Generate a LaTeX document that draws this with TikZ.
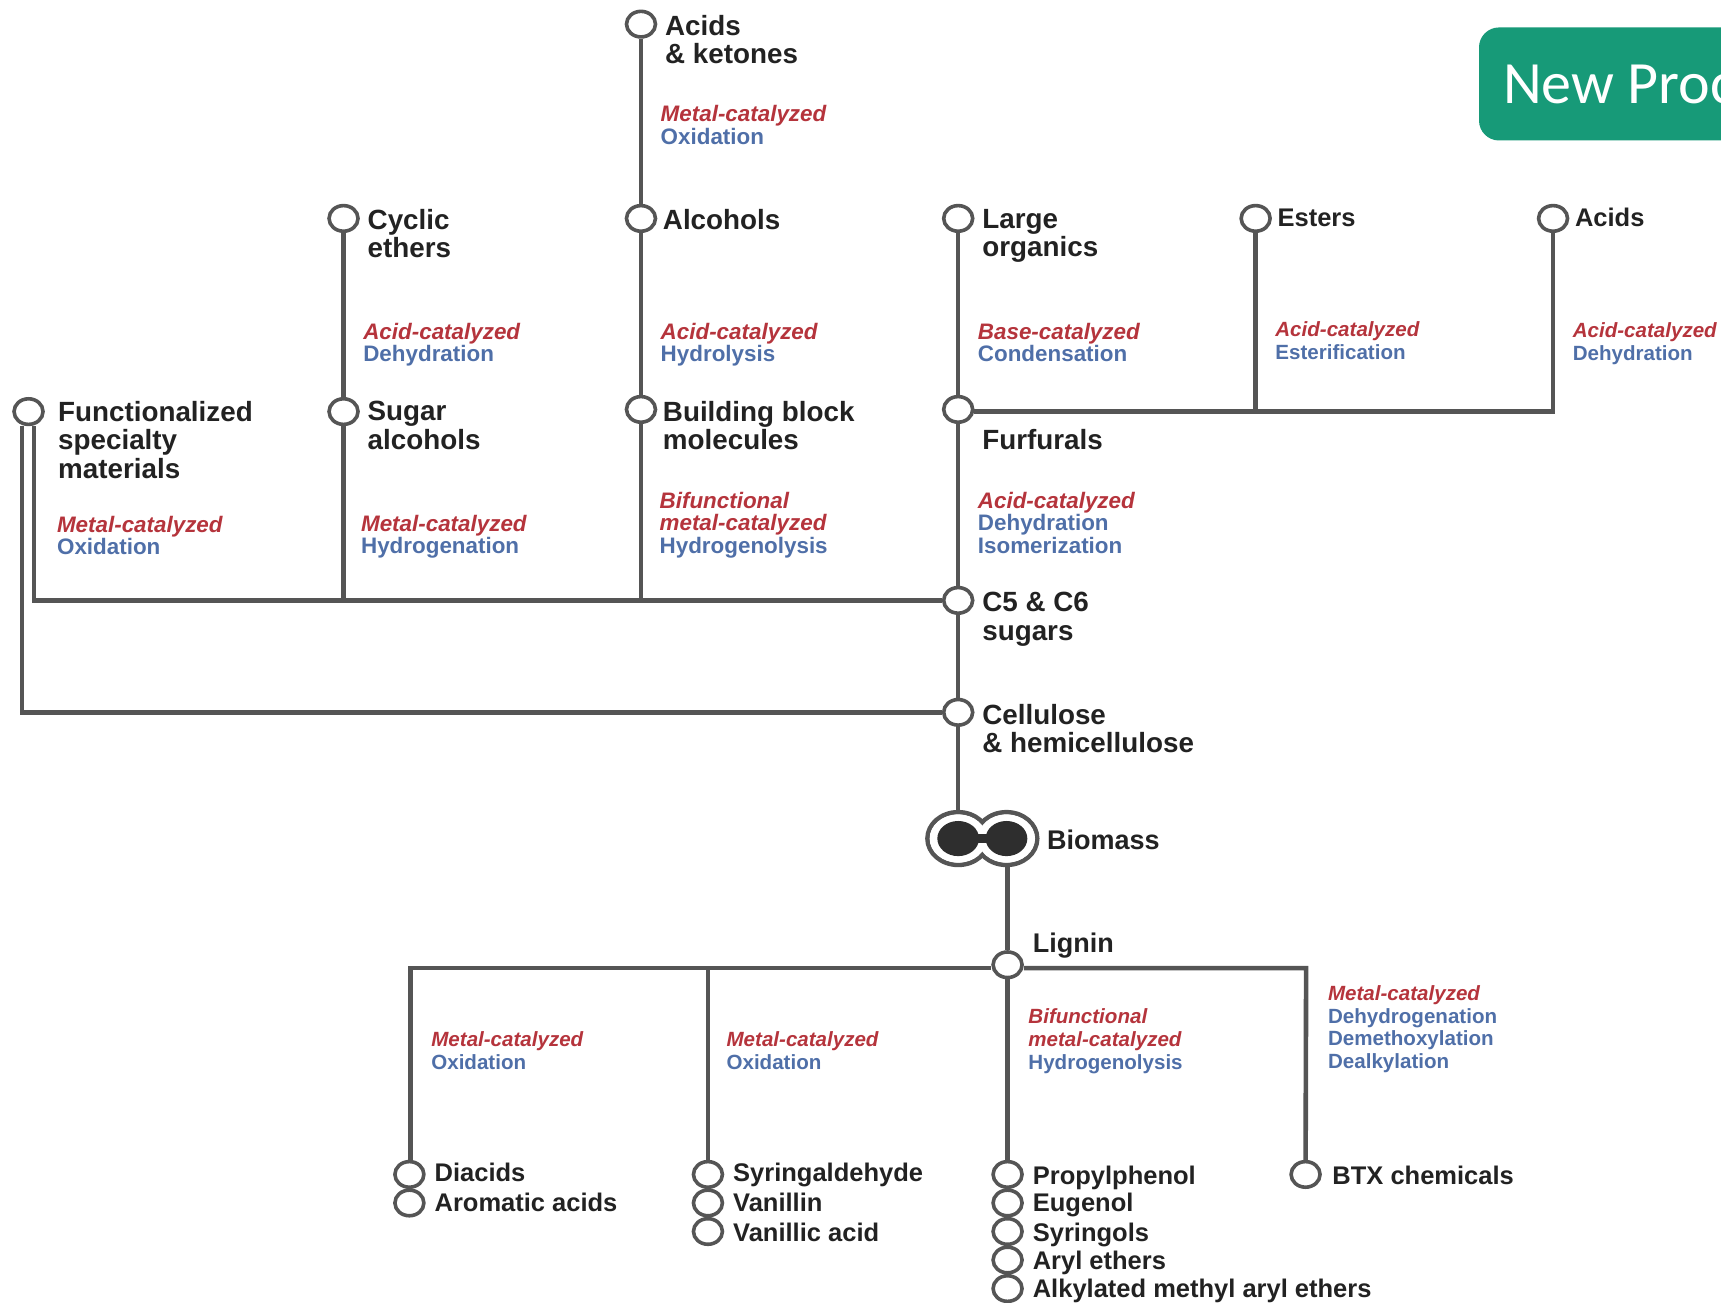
\documentclass[tikz,border=0pt]{standalone}
\usepackage{fontspec}
\setmainfont{Liberation Sans}
\newfontfamily\carlito{Carlito}
\definecolor{linegrey}{HTML}{555555}
\definecolor{labelblack}{HTML}{222222}
\definecolor{catred}{HTML}{B5343C}
\definecolor{procblue}{HTML}{4F6FA8}
\definecolor{boxgreen}{HTML}{179A78}
\definecolor{coredark}{HTML}{2E2E2E}
\newcommand{\rd}[1]{{\color{catred}\bfseries\itshape #1}}
\newcommand{\bl}[1]{{\color{procblue}\bfseries #1}}
\tikzset{
  x=0.5488pt,y=-0.5488pt,
  stop/.style={draw=linegrey,line width=1.8pt,fill=white,ellipse,minimum width=14.5pt,minimum height=12.8pt,inner sep=0pt},
  wire/.style={draw=linegrey,line width=2.3pt,line join=miter},
  lab/.style={anchor=north west,inner sep=0pt,outer sep=0pt,yshift=8.9pt,align=left,text=labelblack,
    font=\fontsize{13.9}{14.1}\selectfont\bfseries,execute at begin node=\rule{0pt}{10pt}},
  labm/.style={lab,font=\fontsize{13.5}{14.1}\selectfont\bfseries},
  labs/.style={lab,yshift=0.55pt,font=\fontsize{12.75}{14.1}\selectfont\bfseries},
  cat/.style={anchor=north west,inner sep=0pt,outer sep=0pt,yshift=7pt,align=left,
    font=\fontsize{11.2}{11.25}\selectfont,execute at begin node=\rule{0pt}{10pt}},
  cats/.style={cat,font=\fontsize{10.28}{11.3}\selectfont},
}
\usetikzlibrary{shapes.geometric}
\begin{document}
\begin{tikzpicture}
\useasboundingbox (0,0) rectangle (1568,1187.1);
% --- stops upper
\node[stop] (ketones) at (584,22) {};
\node[stop] (alcohols) at (584,199) {};
\node[stop] (cyclic) at (313,199) {};
\node[stop] (large) at (873,199) {};
\node[stop] (esters) at (1144,199) {};
\node[stop] (acids) at (1415,199) {};
\node[stop] (func) at (26,375) {};
\node[stop] (sugar) at (313,375) {};
\node[stop] (block) at (584,373) {};
\node[stop] (furf) at (873,373) {};
\node[stop] (c5) at (873,547) {};
\node[stop] (cell) at (873,649) {};
\node[stop] (lignin) at (918,879) {};
% --- stops lower
\node[stop] (diacids) at (373,1070) {};
\node[stop] (aromatic) at (373,1096) {};
\node[stop] (syring) at (645,1070) {};
\node[stop] (vanillin) at (645,1096) {};
\node[stop] (vanillic) at (645,1122) {};
\node[stop] (propyl) at (918,1070) {};
\node[stop] (eugenol) at (918,1096) {};
\node[stop] (syringols) at (918,1122) {};
\node[stop] (aryl) at (918,1148) {};
\node[stop] (alkyl) at (918,1174) {};
\node[stop] (btx) at (1189.5,1070) {};
% --- biomass double stop
\path[fill=white,draw=linegrey,line width=2.3pt] (873,764) ellipse [x radius=28,y radius=24];
\path[fill=white,draw=linegrey,line width=2.3pt] (917,764) ellipse [x radius=28,y radius=24];
\path[fill=white] (873,764) ellipse [x radius=26,y radius=22];
\path[fill=white] (917,764) ellipse [x radius=26,y radius=22];
\fill[coredark] (873,764) ellipse [x radius=19,y radius=16];
\fill[coredark] (917,764) ellipse [x radius=19,y radius=16];
\fill[coredark] (885,760) rectangle (905,768);
\coordinate (bioL) at (873,740);
\coordinate (bioR) at (918,788);
% --- junctions
\coordinate (jA) at (31,547);
\coordinate (jB) at (313,547);
\coordinate (jC) at (584,547);
\coordinate (jD) at (20,649);
\coordinate (jE) at (1144,375);
\coordinate (jF) at (1415,375);
\coordinate (jG) at (374,882);
\coordinate (jH) at (645,882);
\coordinate (jI) at (1190,882);
% --- connectors
\draw[wire] (ketones) -- (alcohols);
\draw[wire] (alcohols) -- (block);
\draw[wire] (block) -- (jC);
\draw[wire] (cyclic) -- (sugar);
\draw[wire] (sugar) -- (jB);
\draw[wire] (large) -- (furf);
\draw[wire] (furf) -- (c5);
\draw[wire] (c5) -- (cell);
\draw[wire] (cell) -- (bioL);
\draw[wire] (esters) -- (jE);
\draw[wire] (acids) -- (jF) -- (furf.east |- jF);
\draw[wire] (c5) -- (jA) -- (jA |- func.south);
\draw[wire] (cell) -- (jD) -- (jD |- func.south);
\draw[wire] (bioR) -- (lignin);
\draw[wire] (lignin) -- (propyl);
\draw[wire] (lignin.west |- jG) -- (jG) -- (jG |- diacids.north);
\draw[wire] (jH) -- (syring);
\draw[wire] (lignin.east |- jI) -- (jI) -- (btx);
% --- substance labels
\node[lab] (tKet) at (606,30) {Acids\\\& ketones};
\node[lab] (tAlc) at (604,207) {Alcohols};
\node[lab] (tCyc) at (335,207) {Cyclic\\ethers};
\node[lab] (tLar) at (895,207) {Large\\organics};
\node[labs] (tEst) at (1164,205) {Esters};
\node[labs] (tAci) at (1435,205) {Acids};
\node[lab] (tFun) at (53,382) {Functionalized\\specialty\\materials};
\node[lab] (tSug) at (335,382) {Sugar\\alcohols};
\node[lab] (tBlo) at (604,382) {Building block\\molecules};
\node[lab] (tFur) at (895,407) {Furfurals};
\node[lab] (tC5) at (895,556) {C5 \& C6\\sugars};
\node[lab] (tCel) at (895,658) {Cellulose\\\& hemicellulose};
\node[labm] (tBio) at (954,772) {Biomass};
\node[labm] (tLig) at (941,866) {Lignin};
\node[labs] (tDia) at (396,1075) {Diacids};
\node[labs] (tAro) at (396,1103) {Aromatic acids};
\node[labs] (tSyr) at (668,1075) {Syringaldehyde};
\node[labs] (tVan) at (668,1103) {Vanillin};
\node[labs] (tVac) at (668,1130) {Vanillic acid};
\node[labs] (tPro) at (941,1078) {Propylphenol};
\node[labs] (tEug) at (941,1103) {Eugenol};
\node[labs] (tSgl) at (941,1130) {Syringols};
\node[labs] (tAry) at (941,1156) {Aryl ethers};
\node[labs] (tAlk) at (941,1181) {Alkylated methyl aryl ethers};
\node[labs] (tBtx) at (1214,1078) {BTX chemicals};
% --- reaction labels
\node[cat] (c1) at (602,109) {\rd{Metal-catalyzed}\\\bl{Oxidation}};
\node[cat] (c2) at (331,307) {\rd{Acid-catalyzed}\\\bl{Dehydration}};
\node[cat] (c3) at (602,307) {\rd{Acid-catalyzed}\\\bl{Hydrolysis}};
\node[cat] (c4) at (891,307) {\rd{Base-catalyzed}\\\bl{Condensation}};
\node[cats] (c5t) at (1162,306) {\rd{Acid-catalyzed}\\\bl{Esterification}};
\node[cats] (c6) at (1433,307) {\rd{Acid-catalyzed}\\\bl{Dehydration}};
\node[cat] (c7) at (52,483) {\rd{Metal-catalyzed}\\\bl{Oxidation}};
\node[cat] (c8) at (329,482) {\rd{Metal-catalyzed}\\\bl{Hydrogenation}};
\node[cat] (c9) at (601,461) {\rd{Bifunctional}\\\rd{metal-catalyzed}\\\bl{Hydrogenolysis}};
\node[cat] (c10) at (891,461) {\rd{Acid-catalyzed}\\\bl{Dehydration}\\\bl{Isomerization}};
\node[cats] (c11) at (393,953) {\rd{Metal-catalyzed}\\\bl{Oxidation}};
\node[cats] (c12) at (662,953) {\rd{Metal-catalyzed}\\\bl{Oxidation}};
\node[cats] (c13) at (937,932) {\rd{Bifunctional}\\\rd{metal-catalyzed}\\\bl{Hydrogenolysis}};
\node[cats] (c14) at (1210,911) {\rd{Metal-catalyzed}\\\bl{Dehydrogenation}\\\bl{Demethoxylation}\\\bl{Dealkylation}};
% --- green banner, cut by the picture edge
\begin{scope}
\clip (0,0) rectangle (1568,1187.1);
\fill[boxgreen,rounded corners=10pt] (1347.5,25) rectangle (1640,128);
\node[anchor=base west,inner sep=0pt,text=white,font=\carlito\fontsize{30}{32}\selectfont] (banner) at (1369,94) {New Proc};
\end{scope}
\end{tikzpicture}
\end{document}
